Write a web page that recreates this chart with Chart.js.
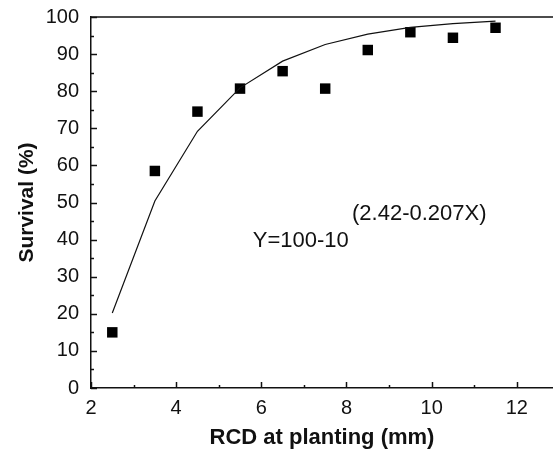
<!DOCTYPE html>
<html>
<head>
<meta charset="utf-8">
<script src="https://cdn.jsdelivr.net/npm/chart.js@4"></script>
<style>
  html, body { margin: 0; padding: 0; background: #fff; }
  #wrap { width: 553px; height: 451px; }
</style>
</head>
<body>
<div id="wrap"><canvas id="survival_chart"></canvas></div>
<script>
// observed survival by root collar diameter
const rcd_values = [2.5, 3.5, 4.5, 5.5, 6.5, 7.5, 8.5, 9.5, 10.5, 11.5];
const survival_obs = [15, 58.5, 74.5, 80.7, 85.4, 80.7, 91.1, 95.9, 94.4, 97.1];
// fitted curve
const survival_fit = [20.2, 50.4, 69.2, 80.9, 88.1, 92.6, 95.4, 97.2, 98.2, 98.9];
const x_ticks = [2, 3, 4, 5, 6, 7, 8, 9, 10, 11, 12];
const y_ticks = [0, 5, 10, 15, 20, 25, 30, 35, 40, 45, 50, 55, 60, 65, 70, 75, 80, 85, 90, 95, 100];

const FONT = "'Liberation Sans', Arial, sans-serif";
const INK = '#111';

// inward tick marks, top frame line and the equation text
const framePlugin = {
    id: 'frame',
    afterDatasetsDraw(chart) {
        const ctx = chart.ctx;
        const area = chart.chartArea;
        const xs = chart.scales.x, ys = chart.scales.y;
        ctx.save();
        ctx.strokeStyle = INK;
        ctx.lineWidth = 1.5;
        ctx.beginPath();
        ctx.moveTo(area.left, area.top);
        ctx.lineTo(area.right, area.top);
        ctx.stroke();
        x_ticks.forEach(v => {
            const px = Math.round(xs.getPixelForValue(v)) + 0.5;
            const len = v % 2 === 0 ? 6 : 3;
            ctx.beginPath();
            ctx.moveTo(px, area.bottom);
            ctx.lineTo(px, area.bottom - len);
            ctx.stroke();
        });
        y_ticks.forEach(v => {
            const py = Math.round(ys.getPixelForValue(v)) + 0.5;
            const len = v % 10 === 0 ? 6 : 3;
            ctx.beginPath();
            ctx.moveTo(area.left, py);
            ctx.lineTo(area.left + len, py);
            ctx.stroke();
        });

        ctx.fillStyle = INK;
        ctx.font = '22px ' + FONT;
        ctx.textBaseline = 'middle';
        ctx.textAlign = 'left';
        ctx.fillText('Y=100-10', xs.getPixelForValue(5.8), ys.getPixelForValue(39.6));
        ctx.fillText('(2.42-0.207X)', xs.getPixelForValue(8.13), ys.getPixelForValue(46.9));
        ctx.restore();
    }
};

const surv = document.getElementById('survival_chart').getContext('2d');
const survivalChart = new Chart(surv, {
    type: 'scatter',
    data: {
        datasets: [
            {
                label: 'fit',
                data: rcd_values.map((x, i) => ({x: x, y: survival_fit[i]})),
                showLine: true,
                borderColor: INK,
                borderWidth: 1.2,
                pointRadius: 0,
                tension: 0
            },
            {
                label: 'observed',
                data: rcd_values.map((x, i) => ({x: x, y: survival_obs[i]})),
                backgroundColor: '#000',
                borderColor: '#000',
                borderWidth: 0,
                pointStyle: 'rect',
                pointRadius: 7.4
            }
        ]
    },
    options: {
        responsive: true,
        maintainAspectRatio: false,
        animation: false,
        layout: {
            autoPadding: false,
            padding: { top: 17, right: 0, left: 0, bottom: 0 }
        },
        plugins: {
            legend: { display: false },
            tooltip: { enabled: false }
        },
        scales: {
            x: {
                type: 'linear',
                min: 2,
                max: 12.85,
                afterBuildTicks: scale => { scale.ticks = x_ticks.map(v => ({value: v})); },
                afterFit: scale => {
                    scale.height = 63;
                    scale.paddingLeft = 0;
                    scale.paddingRight = 0;
                },
                grid: { display: false, drawTicks: false },
                border: { display: true, color: INK, width: 1.5 },
                ticks: {
                    color: INK,
                    padding: 8,
                    maxRotation: 0,
                    autoSkip: false,
                    font: { family: FONT, size: 20 },
                    callback: v => (v % 2 === 0 ? v : '')
                },
                title: {
                    display: true,
                    text: 'RCD at planting (mm)',
                    color: INK,
                    font: { family: FONT, size: 22, weight: 'bold' },
                    padding: { top: 0, bottom: 0 }
                }
            },
            y: {
                type: 'linear',
                min: 0,
                max: 100,
                afterBuildTicks: scale => { scale.ticks = y_ticks.map(v => ({value: v})); },
                afterFit: scale => {
                    scale.width = 91;
                    scale.paddingTop = 0;
                    scale.paddingBottom = 0;
                },
                grid: { display: false, drawTicks: false },
                border: { display: true, color: INK, width: 1.5 },
                ticks: {
                    color: INK,
                    padding: 12,
                    autoSkip: false,
                    font: { family: FONT, size: 20 },
                    callback: v => (v % 10 === 0 ? v : '')
                },
                title: {
                    display: true,
                    text: 'Survival (%)',
                    color: INK,
                    font: { family: FONT, size: 21, weight: 'bold' },
                    padding: { top: 15, bottom: 0 }
                }
            }
        }
    },
    plugins: [framePlugin]
});
</script>
</body>
</html>
